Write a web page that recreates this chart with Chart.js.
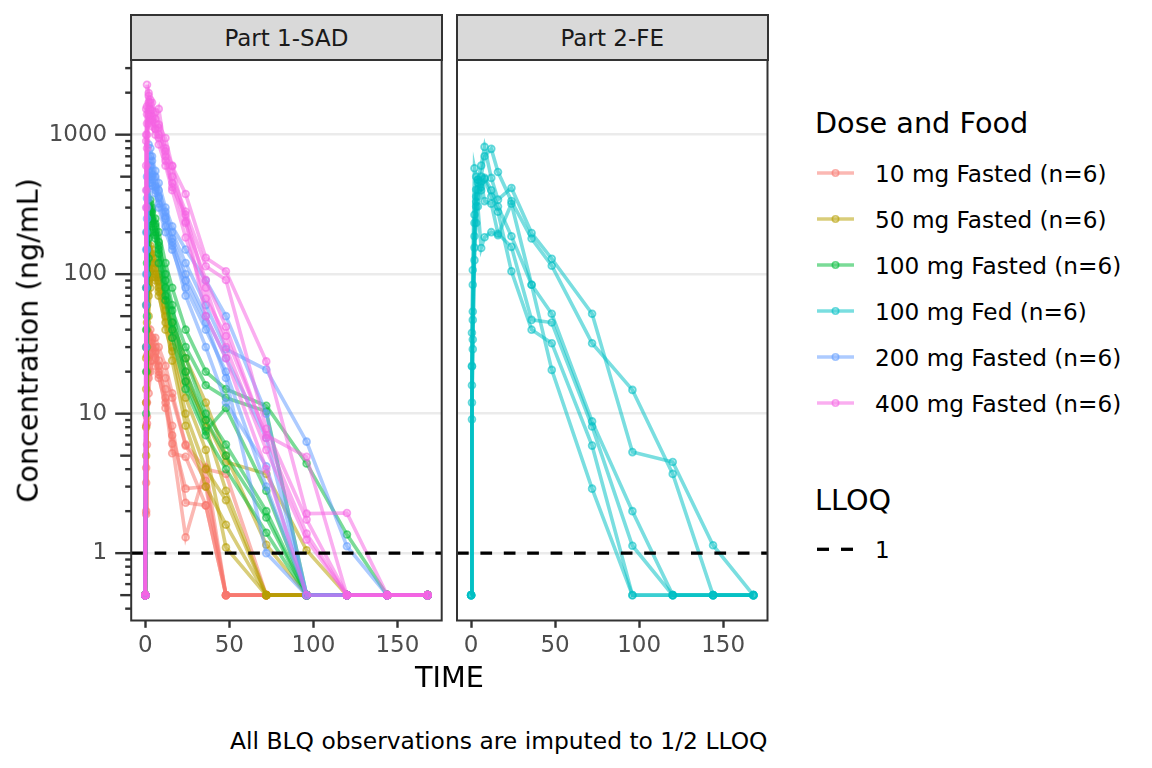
<!DOCTYPE html>
<html>
<head>
<meta charset="utf-8">
<script src="https://cdn.jsdelivr.net/npm/chart.js@4.4.1/dist/chart.umd.min.js"></script>
<style>
  body { margin: 0; width: 1152px; height: 768px; background: #fff; position: relative; overflow: hidden;
         font-family: "DejaVu Sans", sans-serif; }
  canvas { position: absolute; top: 0; }
  .t { position: absolute; line-height: 1; white-space: nowrap; color: #000; }
  .strip { position: absolute; top: 14px; height: 47px; width: 312.5px; box-sizing: border-box;
           background: #D9D9D9; border: 2px solid #333; display: flex; align-items: center;
           justify-content: center; font-size: 23px; color: #1A1A1A; }
</style>
</head>
<body>
<canvas id="p1" width="450" height="700" style="left:0"></canvas>
<canvas id="p2" width="330" height="700" style="left:450px"></canvas>

<div class="strip" style="left:130.2px">Part 1-SAD</div>
<div class="strip" style="left:456px">Part 2-FE</div>

<div class="t" style="left:149.4px;width:600px;text-align:center;top:662.7px;font-size:28.7px">TIME</div>
<div class="t" style="left:-272px;top:326px;width:600px;text-align:center;font-size:28.7px;transform:rotate(-90deg)">Concentration (ng/mL)</div>
<div class="t" style="right:384.5px;top:729.6px;font-size:23.4px">All BLQ observations are imputed to 1/2 LLOQ</div>

<div class="t" style="left:815px;top:109px;font-size:28.7px">Dose and Food</div>
<div id="legend"></div>
<div class="t" style="left:815px;top:485.7px;font-size:28.7px">LLOQ</div>
<svg style="position:absolute;left:815px;top:542px" width="42" height="14">
  <line x1="2" y1="7.3" x2="14" y2="7.3" stroke="#000" stroke-width="3.3"/>
  <line x1="26" y1="7.3" x2="38" y2="7.3" stroke="#000" stroke-width="3.3"/>
</svg>
<div class="t" style="left:875px;top:538.8px;font-size:23px">1</div>

<script>
// sampling times (h)
const TIME = [0, 0.5, 1, 2, 3, 4, 6, 8, 12, 16, 24, 36, 48, 72, 96, 120, 144, 168];

const DOSE_LABELS = ['10 mg Fasted (n=6)', '50 mg Fasted (n=6)', '100 mg Fasted (n=6)',
                     '100 mg Fed (n=6)', '200 mg Fasted (n=6)', '400 mg Fasted (n=6)'];
const DOSE_COLORS = ['#F8766D', '#B79F00', '#00BA38', '#00BFC4', '#619CFF', '#F564E3'];
const DOSE_PART = [1, 1, 1, 2, 1, 1];

const X_TICKS = [0, 50, 100, 150];
const Y_TICKS = [1, 10, 100, 1000];
const LLOQ = 1;

// concentrations per subject (ng/mL), BLQ imputed to 0.5
const CONC_10 = [
  [0.5, 8.2, 20, 33, 36, 30, 25, 20, 15, 8.2, 2.3, 2.2, 0.5, 0.5, 0.5, 0.5, 0.5, 0.5],
  [0.5, 4.1, 12, 25, 30, 34, 28, 22, 13, 6.1, 1.3, 4.1, 0.5, 0.5, 0.5, 0.5, 0.5, 0.5],
  [0.5, 2.0, 8.5, 18, 24, 28, 30, 24, 18, 13, 5.9, 3.3, 0.5, 0.5, 0.5, 0.5, 0.5, 0.5],
  [0.5, 12, 26, 38, 40, 35, 27, 18, 12, 5.2, 4.9, 2.2, 0.5, 0.5, 0.5, 0.5, 0.5, 0.5],
  [0.5, 3.2, 9.5, 20, 27, 32, 35, 30, 22, 14, 6.0, 4.0, 3.7, 0.5, 0.5, 0.5, 0.5, 0.5],
  [0.5, 1.9, 6.0, 14, 20, 24, 22, 19, 11, 7.0, 2.9, 3.0, 0.5, 0.5, 0.5, 0.5, 0.5, 0.5]
];
const CONC_50 = [
  [0.5, 15, 45, 90, 120, 150, 130, 100, 60, 40, 20, 8.0, 2.8, 0.5, 0.5, 0.5, 0.5, 0.5],
  [0.5, 8.0, 30, 70, 100, 110, 100, 80, 50, 30, 13, 5.5, 1.1, 0.5, 0.5, 0.5, 0.5, 0.5],
  [0.5, 25, 60, 110, 140, 130, 110, 90, 55, 35, 17, 9.0, 4.5, 3.7, 1.05, 0.5, 0.5, 0.5],
  [0.5, 5.0, 20, 50, 80, 95, 90, 70, 45, 24, 8.2, 3.0, 1.6, 0.5, 0.5, 0.5, 0.5, 0.5],
  [0.5, 30, 80, 150, 160, 140, 120, 95, 65, 45, 25, 12, 5.0, 1.15, 0.5, 0.5, 0.5, 0.5],
  [0.5, 12, 40, 85, 105, 120, 95, 75, 40, 28, 10, 4.0, 2.4, 0.5, 0.5, 0.5, 0.5, 0.5]
];
const CONC_100 = [
  [0.5, 40, 120, 250, 340, 300, 250, 200, 120, 80, 40, 20, 15, 11.4, 4.4, 1.36, 0.5, 0.5],
  [0.5, 20, 80, 180, 250, 280, 230, 160, 100, 60, 17, 7.5, 11, 2.8, 0.5, 0.5, 0.5, 0.5],
  [0.5, 60, 150, 280, 320, 290, 220, 170, 90, 55, 30, 16, 13, 10.4, 0.5, 0.5, 0.5, 0.5],
  [0.5, 10, 50, 130, 200, 230, 200, 150, 80, 45, 25, 10, 6.0, 2.0, 0.5, 0.5, 0.5, 0.5],
  [0.5, 30, 100, 200, 260, 240, 190, 140, 70, 40, 20, 9.0, 5.0, 1.8, 0.5, 0.5, 0.5, 0.5],
  [0.5, 80, 200, 300, 280, 250, 180, 120, 65, 35, 15, 7.0, 4.0, 1.4, 0.5, 0.5, 0.5, 0.5]
];
const CONC_100_FED = [
  [0.5, 9.1, 34, 126, 306, 475, 600, 817, 490, 342, 415, 197, 129, 52, 5.3, 4.5, 1.14, 0.5],
  [0.5, 22, 54, 187, 361, 404, 500, 700, 791, 540, 334, 180, 115, 32, 14.8, 3.7, 0.5, 0.5],
  [0.5, 38, 107, 575, 500, 455, 400, 490, 400, 305, 187, 84, 52, 8.8, 2.0, 0.5, 0.5, 0.5],
  [0.5, 16, 47, 267, 404, 475, 460, 334, 320, 195, 157, 47, 45, 8.1, 1.13, 0.5, 0.5, 0.5],
  [0.5, 12, 29, 155, 233, 361, 420, 480, 360, 280, 105, 40, 32, 5.9, 0.5, 0.5, 0.5, 0.5],
  [0.5, 21.8, 84, 233, 330, 306, 154, 184, 200, 190, 320, 84, 20.6, 2.9, 0.5, 0.5, 0.5, 0.5]
];
const CONC_200 = [
  [0.5, 100, 350, 600, 700, 650, 500, 400, 280, 200, 120, 60, 29, 20.7, 6.3, 1.12, 0.5, 0.5],
  [0.5, 200, 500, 850, 800, 700, 550, 450, 300, 220, 150, 90, 50, 10, 0.5, 0.5, 0.5, 0.5],
  [0.5, 60, 250, 450, 500, 480, 400, 300, 200, 150, 80, 40, 20, 3.0, 0.5, 0.5, 0.5, 0.5],
  [0.5, 150, 400, 550, 600, 520, 420, 350, 250, 170, 90, 45, 18, 1.0, 0.5, 0.5, 0.5, 0.5],
  [0.5, 30, 150, 350, 450, 430, 380, 320, 220, 160, 70, 30, 12, 4.2, 0.5, 0.5, 0.5, 0.5],
  [0.5, 80, 300, 500, 550, 500, 430, 360, 260, 180, 100, 50, 25, 6.7, 0.5, 0.5, 0.5, 0.5]
];
const CONC_400 = [
  [0.5, 1530, 2280, 1900, 1780, 1700, 1450, 1180, 946, 593, 376, 131, 105, 23.7, 1.92, 1.94, 0.5, 0.5],
  [0.5, 900, 1600, 1990, 1700, 1500, 1300, 1530, 760, 500, 281, 114, 91, 7.8, 1.74, 0.5, 0.5, 0.5],
  [0.5, 600, 1200, 1400, 1500, 1300, 1100, 1120, 700, 450, 233, 91, 42, 6.7, 1.38, 0.5, 0.5, 0.5],
  [0.5, 300, 800, 1200, 1300, 1150, 1000, 850, 600, 400, 183, 67, 36, 7.0, 4.9, 0.5, 0.5, 0.5],
  [0.5, 1000, 1400, 1700, 1500, 1350, 1200, 1000, 800, 600, 239, 50, 25, 4.0, 0.5, 0.5, 0.5, 0.5],
  [0.5, 400, 1000, 1500, 1400, 1250, 1100, 950, 650, 420, 267, 80, 30, 5.5, 1.25, 0.5, 0.5, 0.5]
];
const CONC = [CONC_10, CONC_50, CONC_100, CONC_100_FED, CONC_200, CONC_400];

// axis limits (ggplot 5% expansion)
const X_MIN = -8.4, X_MAX = 176.4;
const Y_MIN = 0.329, Y_MAX = 3430;
const FONT = '"DejaVu Sans", sans-serif';

function rgba(hex, a) {
  const n = parseInt(hex.slice(1), 16);
  return `rgba(${n >> 16},${(n >> 8) & 255},${n & 255},${a})`;
}

function buildDatasets(part) {
  const out = [];
  CONC.forEach((group, g) => {
    if (DOSE_PART[g] !== part) return;
    group.forEach((subj, s) => {
      out.push({
        data: TIME.map((t, i) => ({ x: t, y: subj[i] })),
        borderColor: rgba(DOSE_COLORS[g], 0.52),
        borderWidth: 3.6,
        pointRadius: 3.4,
        pointBorderWidth: 1.8,
        pointBackgroundColor: rgba(DOSE_COLORS[g], 0.22),
        pointBorderColor: rgba(DOSE_COLORS[g], 0.58),
        tension: 0,
        order: 100 - g * 10 - s   // higher dose drawn on top
      });
    });
  });
  return out;
}

// panel frame, LLOQ line and log ticks
function decor(withLogTicks) {
  return {
    id: 'decor',
    afterDatasetsDraw(chart) {
      const { ctx, chartArea: a, scales: { y } } = chart;
      const yl = y.getPixelForValue(LLOQ);
      ctx.save();
      ctx.strokeStyle = '#000';
      ctx.lineWidth = 3.3;
      ctx.setLineDash([11.7, 11.7]);
      ctx.beginPath();
      ctx.moveTo(a.left, yl);
      ctx.lineTo(a.right, yl);
      ctx.stroke();
      ctx.restore();
    },
    afterDraw(chart) {
      const { ctx, chartArea: a, scales: { y } } = chart;
      ctx.save();
      ctx.strokeStyle = '#333333';
      ctx.lineWidth = 2;
      ctx.strokeRect(a.left, a.top, a.right - a.left, a.bottom - a.top);
      if (withLogTicks) {
        ctx.lineWidth = 2.4;
        for (let d = 0.1; d <= 1000; d *= 10) {
          for (let m = 1; m <= 9; m++) {
            const v = m * d;
            if (v < Y_MIN || v > Y_MAX) continue;
            const len = m === 1 ? 16 : (m === 5 ? 11 : 6);
            const py = y.getPixelForValue(v);
            ctx.beginPath();
            ctx.moveTo(a.left - len, py);
            ctx.lineTo(a.left, py);
            ctx.stroke();
          }
        }
      }
      ctx.restore();
    }
  };
}

function makePanel(id, part, yWidth, padRight, showY) {
  return new Chart(document.getElementById(id), {
    type: 'line',
    data: { datasets: buildDatasets(part) },
    options: {
      responsive: false,
      animation: false,
      devicePixelRatio: 1,
      layout: { padding: { top: 60, right: padRight, bottom: 0, left: 0 } },
      plugins: { legend: { display: false }, tooltip: { enabled: false } },
      scales: {
        x: {
          type: 'linear', bounds: 'data', min: X_MIN, max: X_MAX,
          afterBuildTicks: s => { s.ticks = X_TICKS.map(v => ({ value: v })); },
          afterFit: s => { s.height = 79.5; },
          border: { display: false },
          grid: { drawOnChartArea: false, drawTicks: true, tickLength: 7.3,
                  tickColor: '#333333', tickWidth: 2.4 },
          ticks: { font: { family: FONT, size: 23 }, color: '#4D4D4D', padding: 4,
                   maxRotation: 0, autoSkip: false, callback: v => String(v) }
        },
        y: {
          type: 'logarithmic', bounds: 'data', min: Y_MIN, max: Y_MAX,
          afterBuildTicks: s => { s.ticks = Y_TICKS.map(v => ({ value: v })); },
          afterFit: s => { s.width = yWidth; },
          border: { display: false },
          grid: { color: '#EBEBEB', lineWidth: 2.4, drawTicks: false },
          ticks: { display: showY, font: { family: FONT, size: 23 }, color: '#4D4D4D',
                   padding: 24, callback: v => String(v) }
        }
      }
    },
    plugins: [decor(showY)]
  });
}

makePanel('p1', 1, 131.2, 8.3, true);
makePanel('p2', 2, 7, 12.5, false);

// legend for dose groups
const legend = document.getElementById('legend');
DOSE_LABELS.forEach((label, i) => {
  const base = 181.7 + 45.9 * i;
  const c = DOSE_COLORS[i];
  legend.insertAdjacentHTML('beforeend',
    `<svg style="position:absolute;left:815px;top:${base - 8.4 - 7}px" width="42" height="14">
       <line x1="2" y1="7" x2="39" y2="7" stroke="${rgba(c, 0.52)}" stroke-width="3.6"/>
       <circle cx="20.5" cy="7" r="3.2" fill="${rgba(c, 0.22)}" stroke="${rgba(c, 0.58)}" stroke-width="1.6"/>
     </svg>
     <div class="t" style="left:875px;top:${base - 19.46}px;font-size:23.2px">${label}</div>`);
});
</script>
</body>
</html>
